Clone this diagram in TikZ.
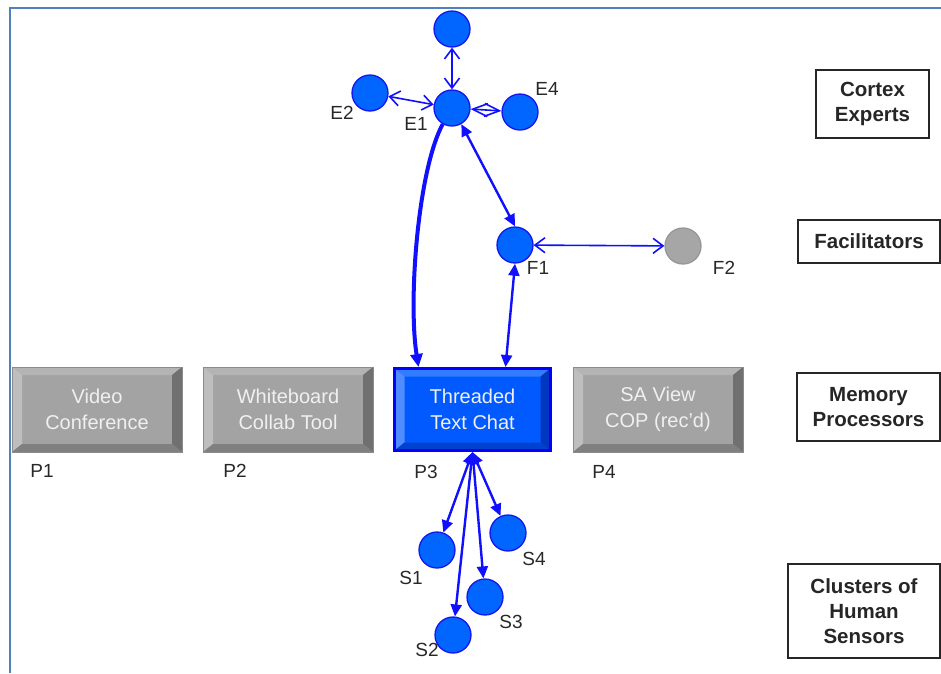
\documentclass[tikz,border=0pt]{standalone}
\usepackage{fontspec}
\setmainfont{Liberation Sans}
\usetikzlibrary{arrows.meta}
\definecolor{frameblue}{RGB}{79,129,189}
\definecolor{arrblue}{RGB}{16,16,255}
\definecolor{circfill}{RGB}{0,102,255}
\definecolor{circline}{RGB}{20,20,240}
\definecolor{greyfill}{RGB}{166,166,166}
\definecolor{greyline}{RGB}{150,150,150}
\definecolor{labelcol}{RGB}{40,40,40}
\definecolor{bxface}{RGB}{163,163,163}
\definecolor{bxtop}{RGB}{180,180,180}
\definecolor{bxleft}{RGB}{190,190,190}
\definecolor{bxright}{RGB}{112,112,112}
\definecolor{bxbot}{RGB}{128,128,128}
\definecolor{blface}{RGB}{0,90,255}
\definecolor{bltop}{RGB}{50,125,255}
\definecolor{blleft}{RGB}{80,140,255}
\definecolor{blright}{RGB}{0,55,190}
\definecolor{blbot}{RGB}{0,65,205}
\newcommand\mybevel[4]{%
 \fill[#1] (path picture bounding box.north west) -- (path picture bounding box.north east) -- ([shift={(-10pt,-8pt)}]path picture bounding box.north east) -- ([shift={(10pt,-8pt)}]path picture bounding box.north west) -- cycle;
 \fill[#2] (path picture bounding box.north west) -- (path picture bounding box.south west) -- ([shift={(10pt,8pt)}]path picture bounding box.south west) -- ([shift={(10pt,-8pt)}]path picture bounding box.north west) -- cycle;
 \fill[#3] (path picture bounding box.north east) -- (path picture bounding box.south east) -- ([shift={(-10pt,8pt)}]path picture bounding box.south east) -- ([shift={(-10pt,-8pt)}]path picture bounding box.north east) -- cycle;
 \fill[#4] (path picture bounding box.south west) -- (path picture bounding box.south east) -- ([shift={(-10pt,8pt)}]path picture bounding box.south east) -- ([shift={(10pt,8pt)}]path picture bounding box.south west) -- cycle;
}
\tikzset{
 dot/.style={circle, fill=circfill, draw=circline, line width=1.3pt, minimum size=36pt, inner sep=0pt},
 greydot/.style={dot, fill=greyfill, draw=greyline},
 lbl/.style={font=\fontsize{19}{21}\selectfont, text=labelcol, inner sep=0pt},
 toolbox/.style={rectangle, minimum width=170pt, minimum height=85pt, inner sep=0pt, align=center,
   font=\fontsize{20}{26}\selectfont, text=white!94!black},
 greytool/.style={toolbox, fill=bxface, draw=bxface!85!black, line width=0.8pt,
   path picture={\mybevel{bxtop}{bxleft}{bxright}{bxbot}}},
 bluetool/.style={toolbox, minimum width=156pt, minimum height=82pt, fill=blface, draw=blue, line width=3pt,
   path picture={\mybevel{bltop}{blleft}{blright}{blbot}}},
 levelbox/.style={rectangle, draw=black!85, line width=1.3pt, fill=white, inner sep=0pt, align=center,
   font=\bfseries\fontsize{20.5}{25}\selectfont, text=black!85},
 barbs/.style={draw=arrblue, line width=1.6pt,
   {Straight Barb[length=10pt,width=15pt]}-{Straight Barb[length=10pt,width=15pt]}},
 tris/.style={draw=arrblue, line width=2.4pt,
   {Triangle[length=12pt,width=11pt]}-{Triangle[length=12pt,width=11pt]}},
 thickone/.style={draw=arrblue, line width=4pt, -{Triangle[length=13pt,width=12pt]}},
}
\begin{document}
\begin{tikzpicture}[x=1pt,y=-1pt]
\useasboundingbox (0,0) rectangle (941,673);
\draw[frameblue, line width=2.5pt] (10,673) -- (10,8) -- (941,8);

% level boxes
\node[levelbox, minimum width=113pt, minimum height=68pt] (lvC) at (872.5,104) {Cortex\\Experts};
\node[levelbox, minimum width=142pt, minimum height=43pt] (lvF) at (869,241.5) {Facilitators};
\node[levelbox, minimum width=143pt, minimum height=68pt] (lvM) at (868.5,407) {Memory\\Processors};
\node[levelbox, minimum width=152pt, minimum height=94pt] (lvS) at (864,611) {Clusters of\\Human\\Sensors};

% tool boxes
\node[greytool] (P1) at (97,409.5) {Video\\Conference};
\node[greytool] (P2) at (288,409.5) {Whiteboard\\Collab Tool};
\node[bluetool] (P3) at (472.5,409.5) {Threaded\\Text Chat};
\node[greytool] (P4) at (658,409.5) {SA View\\COP (rec'd)};
\node[lbl] (lP1) at (42,471) {P1};
\node[lbl] (lP2) at (235,471) {P2};
\node[lbl] (lP3) at (426,472) {P3};
\node[lbl] (lP4) at (604,472) {P4};

% experts
\node[dot] (E3) at (452,29) {};
\node[dot] (E1) at (452,108) {};
\node[dot] (E2) at (370,93) {};
\node[dot] (E4) at (520,112) {};
\node[lbl] (lE1) at (416,124) {E1};
\node[lbl] (lE2) at (342,113) {E2};
\node[lbl] (lE4) at (547,89) {E4};

% facilitators
\node[dot] (F1) at (515,245) {};
\node[greydot] (F2) at (683,246) {};
\node[lbl] (lF1) at (538,268) {F1};
\node[lbl] (lF2) at (724,268) {F2};

% sensors
\node[dot] (S1) at (437,550) {};
\node[dot] (S2) at (453,635) {};
\node[dot] (S3) at (485,597) {};
\node[dot] (S4) at (508,533) {};
\node[lbl] (lS1) at (411,578) {S1};
\node[lbl] (lS2) at (427,650) {S2};
\node[lbl] (lS3) at (511,622) {S3};
\node[lbl] (lS4) at (534,559) {S4};

% connectors
\draw[barbs] (E3) -- (E1);
\draw[barbs] (E2) -- (E1);
\draw[barbs, {Straight Barb[length=15pt,width=13pt]}-{Straight Barb[length=15pt,width=13pt]}] (E1) -- (E4);
\draw[barbs] (F1) -- (F2);
\draw[tris] (E1.-60) -- (F1.north);
\draw[tris] (F1.south) -- ([xshift=33pt]P3.north);
\draw[thickone] (E1.240) .. controls (418,170) and (408,300) .. ([xshift=-54pt]P3.north);
\draw[tris] (P3.south) -- (S1);
\draw[tris] (P3.south) -- (S2);
\draw[tris] (P3.south) -- (S3);
\draw[tris] (P3.south) -- (S4);
\end{tikzpicture}
\end{document}
